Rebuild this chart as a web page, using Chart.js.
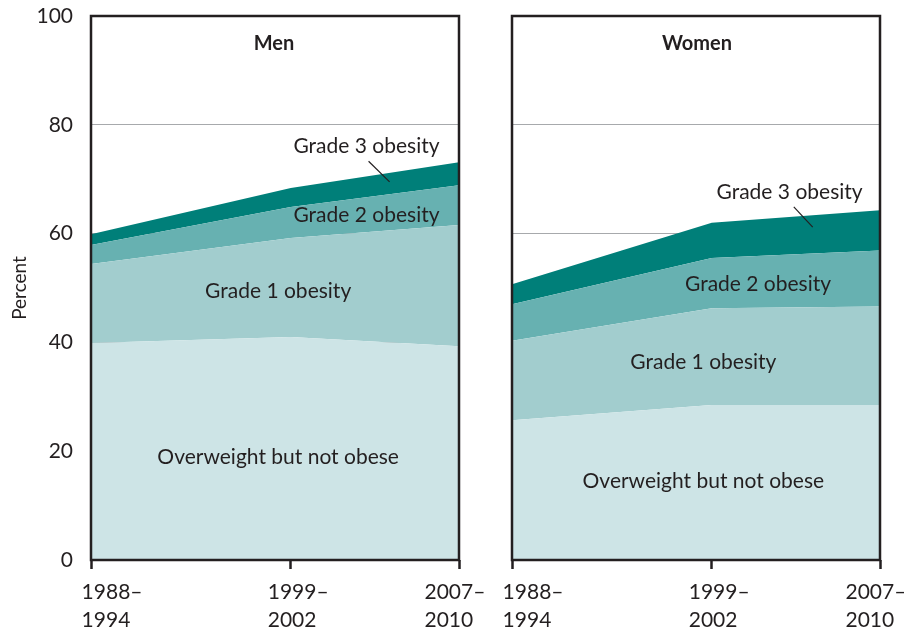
<!DOCTYPE html>
<html>
<head>
<meta charset="utf-8">
<script src="https://cdn.jsdelivr.net/npm/chart.js@4.4.1/dist/chart.umd.min.js"></script>
<style>
  html, body { margin: 0; padding: 0; background: #fff; }
  #wrap { position: relative; width: 904px; height: 629px; }
  canvas { position: absolute; top: 0; }
  #men { left: 0; }
  #women { left: 480px; }
</style>
</head>
<body>
<div id="wrap">
  <canvas id="men" width="500" height="629"></canvas>
  <canvas id="women" width="424" height="629"></canvas>
</div>
<script>
// survey periods, plotted at their midpoint year
const periods = [["1988–", "1994"], ["1999–", "2002"], ["2007–", "2010"]];
const periodMid = [1991, 2000.5, 2008.5];
const yTicks = [0, 20, 40, 60, 80, 100];

const seriesNames = ["Overweight but not obese", "Grade 1 obesity", "Grade 2 obesity", "Grade 3 obesity"];
const seriesColors = ["#cde4e6", "#a2cdce", "#67b1b1", "#007f79"];

const menOverweight = [39.9, 41.0, 39.3];
const menGrade1 = [14.5, 18.2, 22.3];
const menGrade2 = [3.5, 5.7, 7.3];
const menGrade3 = [2.0, 3.5, 4.2];

const womenOverweight = [25.7, 28.5, 28.5];
const womenGrade1 = [14.6, 17.8, 18.1];
const womenGrade2 = [6.7, 9.2, 10.3];
const womenGrade3 = [3.7, 6.5, 7.4];

// in-chart labels, placed in data units
const menNotes = [
  { text: "Men", x: 1999.7, y: 95, bold: true },
  { text: "Grade 3 obesity", x: 2004.1, y: 76.1 },
  { text: "Grade 2 obesity", x: 2004.1, y: 63.4 },
  { text: "Grade 1 obesity", x: 1999.9, y: 49.4 },
  { text: "Overweight but not obese", x: 1999.9, y: 18.9 }
];
const menPointer = [[2004.2, 73.3], [2005.2, 69.5]];

const womenNotes = [
  { text: "Women", x: 1999.8, y: 95, bold: true },
  { text: "Grade 3 obesity", x: 2004.2, y: 67.6 },
  { text: "Grade 2 obesity", x: 2002.7, y: 50.7 },
  { text: "Grade 1 obesity", x: 2000.1, y: 36.4 },
  { text: "Overweight but not obese", x: 2000.1, y: 14.5 }
];
const womenPointer = [[2004.4, 64.9], [2005.3, 61.2]];

const FONT = "Lato, 'Open Sans', sans-serif";
const INK = "#231f20";

const notesPlugin = {
  id: "notes",
  afterDatasetsDraw(chart, args, opts) {
    const { ctx, scales } = chart;
    const x = scales.x, y = scales.y;
    ctx.save();
    ctx.fillStyle = INK;
    ctx.textAlign = "center";
    ctx.textBaseline = "middle";
    opts.notes.forEach(n => {
      ctx.font = (n.bold ? "bold 20px " : "21px ") + FONT;
      ctx.fillText(n.text, x.getPixelForValue(n.x), y.getPixelForValue(n.y));
    });
    const p = opts.pointer;
    ctx.strokeStyle = INK;
    ctx.lineWidth = 1.2;
    ctx.beginPath();
    ctx.moveTo(x.getPixelForValue(p[0][0]), y.getPixelForValue(p[0][1]));
    ctx.lineTo(x.getPixelForValue(p[1][0]), y.getPixelForValue(p[1][1]));
    ctx.stroke();
    ctx.restore();
  }
};

const framePlugin = {
  id: "frame",
  afterDraw(chart) {
    const { ctx, chartArea: a } = chart;
    ctx.save();
    ctx.strokeStyle = INK;
    ctx.lineWidth = 2.5;
    ctx.strokeRect(a.left, a.top, a.right - a.left, a.bottom - a.top);
    ctx.restore();
  }
};

function makePanel(id, values, notes, pointer, showY, plotLeft, rightPad) {
  const datasets = values.map((vals, i) => ({
    label: seriesNames[i],
    data: vals.map((v, j) => ({ x: periodMid[j], y: v })),
    backgroundColor: seriesColors[i],
    borderWidth: 0,
    pointRadius: 0,
    tension: 0,
    fill: i === 0 ? "origin" : "-1"
  }));

  return new Chart(document.getElementById(id), {
    type: "line",
    data: { datasets },
    plugins: [notesPlugin, framePlugin],
    options: {
      responsive: false,
      animation: false,
      layout: { padding: { top: 16, right: rightPad, left: 0, bottom: 0 } },
      plugins: {
        legend: { display: false },
        tooltip: { enabled: false },
        notes: { notes, pointer }
      },
      scales: {
        // tick marks at the survey periods
        x: {
          type: "linear",
          min: periodMid[0],
          max: periodMid[periodMid.length - 1],
          afterBuildTicks: s => { s.ticks = periodMid.map(v => ({ value: v })); },
          afterFit: s => { s.height = 9; s.paddingLeft = 0; s.paddingRight = 0; },
          border: { display: false },
          grid: { drawOnChartArea: false, drawTicks: true, tickLength: 9, tickWidth: 2.5, tickColor: INK },
          ticks: { display: false }
        },
        // period labels, set left of each tick and spread slightly tighter, as printed
        xl: {
          type: "linear",
          position: "bottom",
          weight: 1,
          min: 1991.48,
          max: 2010.26,
          afterBuildTicks: s => { s.ticks = periodMid.map(v => ({ value: v })); },
          afterFit: s => { s.height = 60; s.paddingLeft = 0; s.paddingRight = 0; },
          border: { display: false },
          grid: { display: false },
          ticks: {
            align: "start",
            padding: 1,
            color: INK,
            font: { family: FONT, size: 21, lineHeight: 1.33 },
            maxRotation: 0,
            callback: v => periods[periodMid.indexOf(v)]
          }
        },
        y: {
          stacked: true,
          min: 0,
          max: 100,
          afterBuildTicks: s => { s.ticks = yTicks.map(v => ({ value: v })); },
          afterFit: s => { s.width = plotLeft; s.paddingTop = 0; s.paddingBottom = 0; },
          border: { display: false },
          grid: { color: "#a7a9ac", lineWidth: 1, drawTicks: false },
          ticks: {
            display: showY,
            padding: 18,
            color: INK,
            font: { family: FONT, size: 21 }
          },
          title: {
            display: showY,
            text: "Percent",
            color: INK,
            padding: 8,
            font: { family: FONT, size: 19 }
          }
        }
      }
    }
  });
}

makePanel("men", [menOverweight, menGrade1, menGrade2, menGrade3], menNotes, menPointer, true, 91, 41);
makePanel("women", [womenOverweight, womenGrade1, womenGrade2, womenGrade3], womenNotes, womenPointer, false, 32, 24);
</script>
</body>
</html>
